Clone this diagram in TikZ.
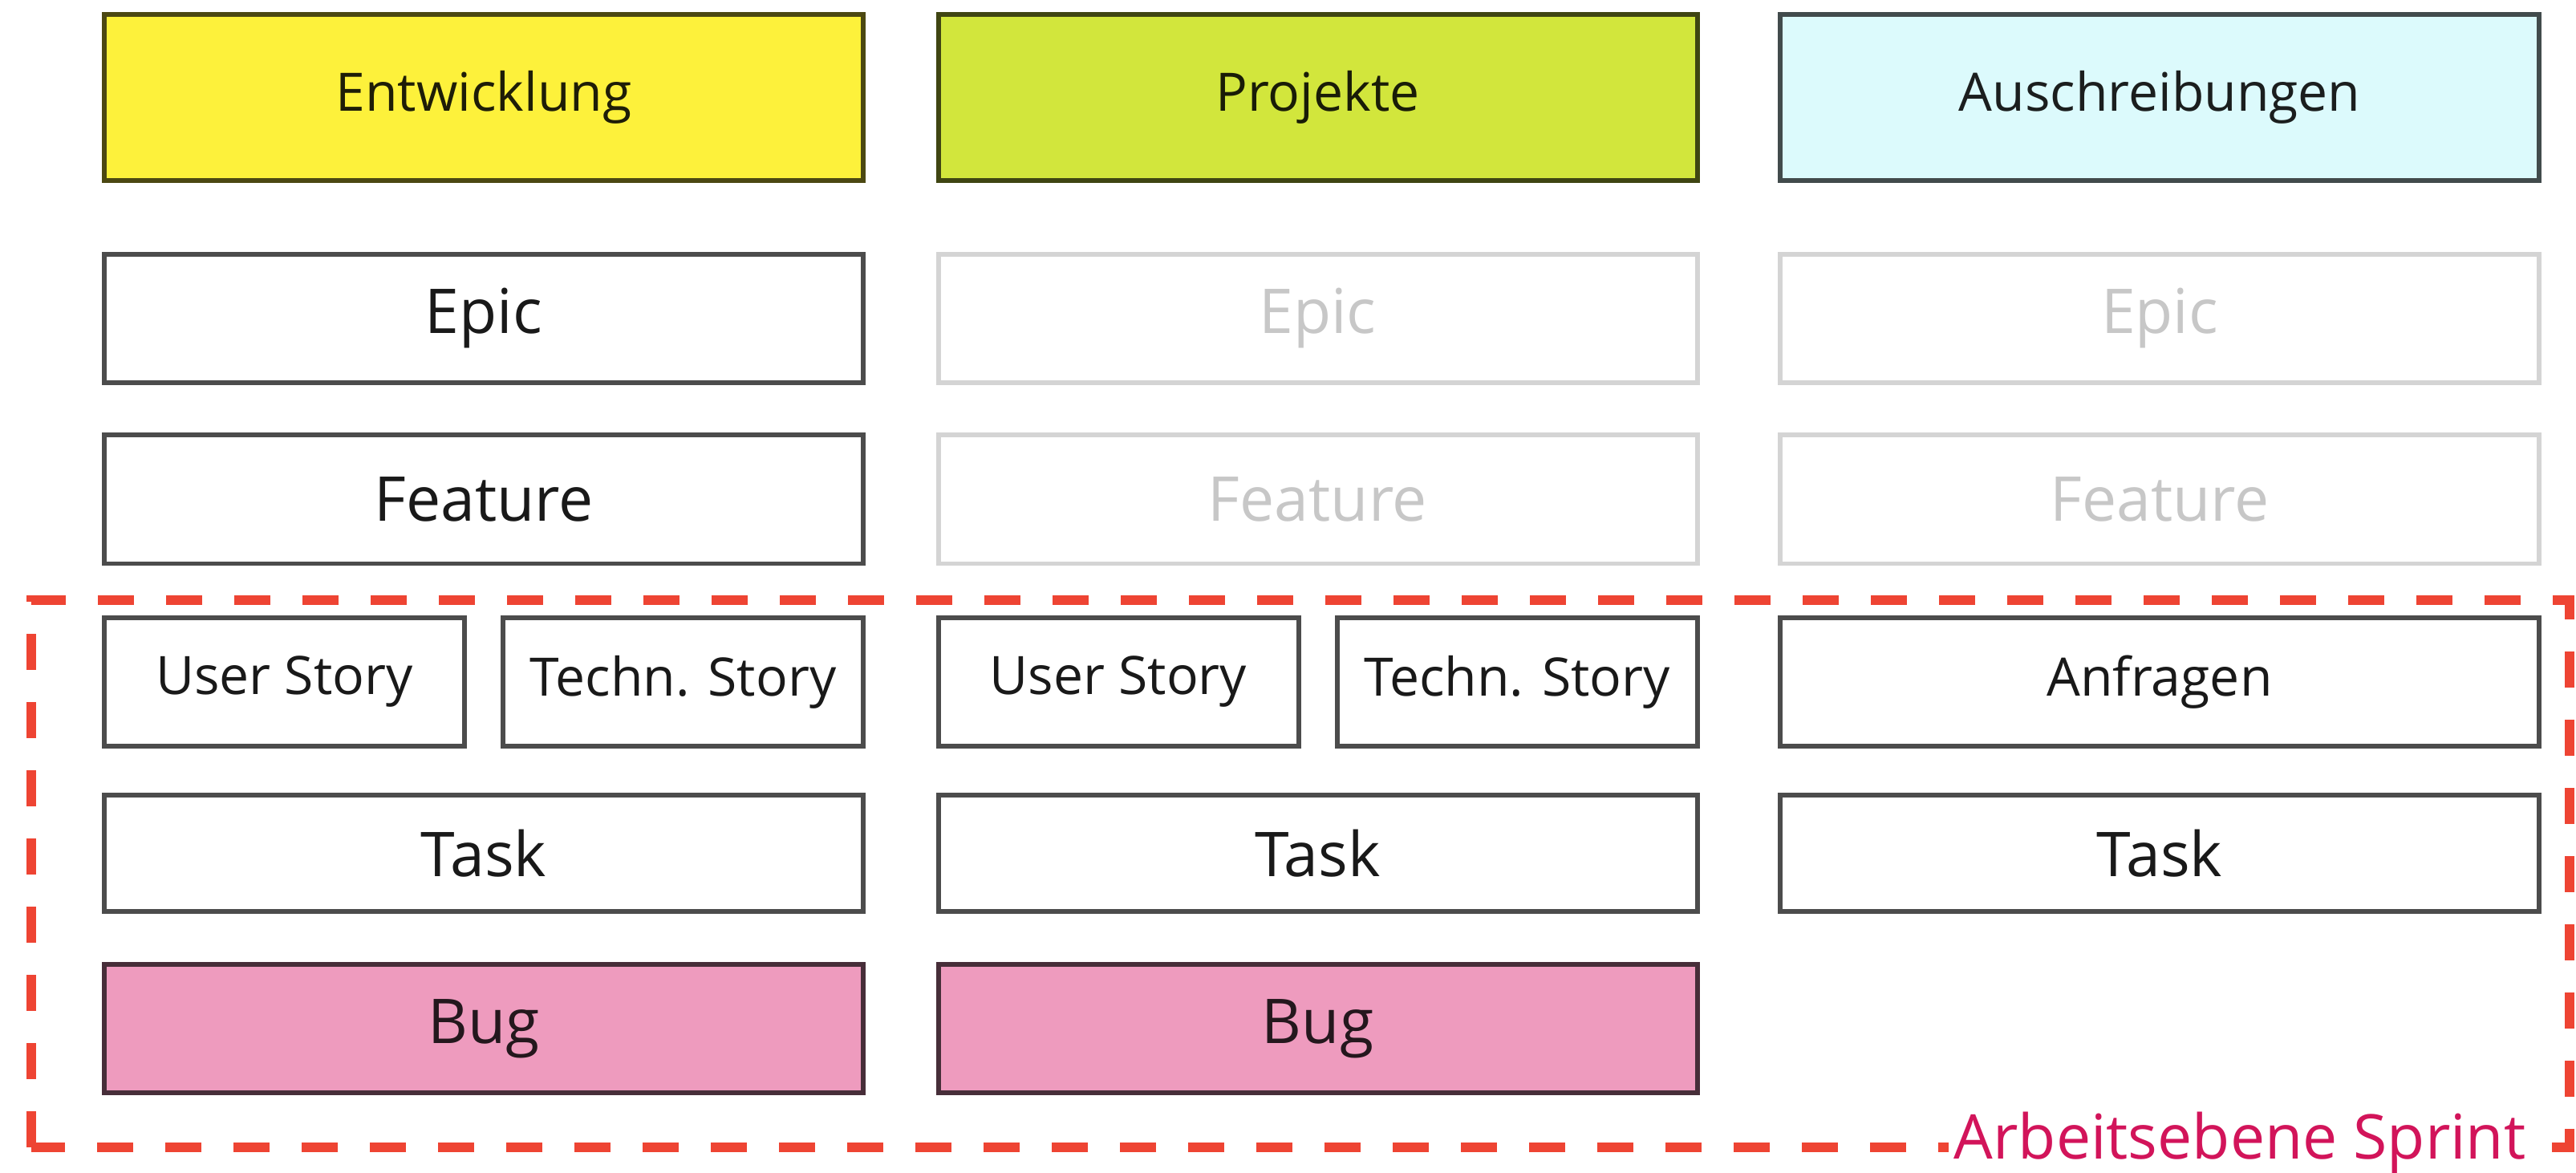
\documentclass[tikz,border=0pt]{standalone}
\usepackage{fontspec}
\setmainfont{Open Sans}
\definecolor{entw}{HTML}{FDF13B}
\definecolor{proj}{HTML}{D2E63C}
\definecolor{ausschr}{HTML}{DCFAFC}
\definecolor{bugfill}{HTML}{EE9BBE}
\definecolor{sprintline}{HTML}{EE4433}
\definecolor{sprinttext}{HTML}{D2145A}
\begin{document}
\begin{tikzpicture}[every node/.style={inner sep=0pt,align=center},
  big/.style={font=\fontsize{21.9}{26}\selectfont},
  small/.style={font=\fontsize{18.8}{22}\selectfont},
  box/.style={draw=black!70,line width=1.7pt,fill=white,text=black!90,minimum width=9.46cm,minimum height=1.6cm},
  ghost/.style={box,draw=black!17,text=black!22},
  headbox/.style={box,small,minimum height=2.07cm},
  sprint/.style={draw=sprintline,line width=3.4pt,dash pattern=on 0.45cm off 0.4cm}]
  \useasboundingbox (0,0) rectangle (32.11,14.61);
  \foreach \x/\lab/\col/\nm in {6.03/Entwicklung/entw/ent,%
    16.425/Projekte/proj/pro,%
    26.92/Auschreibungen/ausschr/aus} {
    \node[headbox,fill=\col,draw=\col!30!black,text=\col!12!black] (head-\nm) at (\x,13.395) {\lab};
  }
  \foreach \x/\nm/\sty in {6.03/ent/box,16.425/pro/ghost,26.92/aus/ghost} {
    \node[\sty,big] (epic-\nm) at (\x,10.64) {Epic};
    \node[\sty,big] (feat-\nm) at (\x,8.385) {Feature};
  }
  \draw[sprint] (0.39,0.31) rectangle (32.03,7.13);
  \foreach \x/\nm in {6.03/ent,16.425/pro} {
    \node[box,small,minimum width=4.49cm] (us-\nm) at (\x-2.485,6.11) {User Story};
    \node[box,small,minimum width=4.49cm] (ts-\nm) at (\x+2.485,6.11) {Techn. Story};
    \node[box,big,fill=bugfill,draw=bugfill!30!black,text=bugfill!15!black] (bug-\nm) at (\x,1.79) {Bug};
  }
  \node[box,small] (anf-aus) at (26.92,6.11) {Anfragen};
  \foreach \x/\nm in {6.03/ent,16.425/pro,26.92/aus}
    \node[box,big,minimum height=1.45cm] (task-\nm) at (\x,3.975) {Task};
  \node[fill=white,text=sprinttext,big,anchor=base,inner xsep=2pt,inner ysep=4pt] (sprint-lab) at (27.92,0.16) {Arbeitsebene Sprint};
\end{tikzpicture}
\end{document}
